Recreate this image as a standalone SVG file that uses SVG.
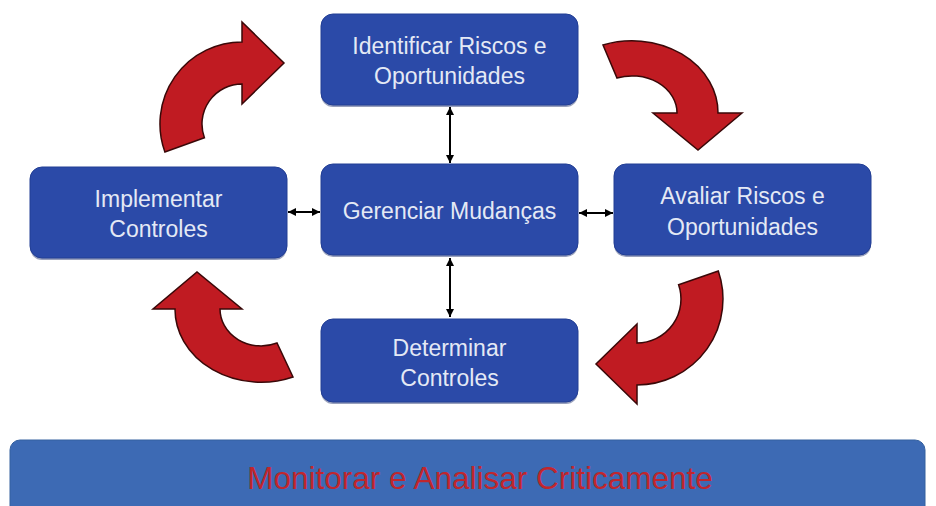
<svg xmlns="http://www.w3.org/2000/svg" width="936" height="506" viewBox="0 0 936 506">
<style>
.box{fill:#2B4AA8;stroke:#223E94;stroke-width:1}
.sh{fill:#1A2D6A;opacity:0.45}
.t{font-family:"Liberation Sans",Arial,sans-serif;font-size:23px;fill:#E4E9F5;text-anchor:middle}
.ra{fill:#C01B22;stroke:#3A0808;stroke-width:1.5;stroke-linejoin:miter}
.c{stroke:#000;stroke-width:2;fill:none;marker-start:url(#ah);marker-end:url(#ah)}
</style>
<defs>
<marker id="ah" markerUnits="userSpaceOnUse" markerWidth="9" markerHeight="9" refX="8" refY="4.5" orient="auto-start-reverse">
<path d="M0,0.5 L8,4.5 L0,8.5 z" fill="#000"/>
</marker>
</defs>
<rect width="936" height="506" fill="#fff"/>
<g id="cycle-arrows">
<path class="ra" d="M164.9,152 A82,82 0 0 1 242,42 L242,22 L284,63 L242,104 L242,84 A40,40 0 0 0 204.4,137.7 Z"/>
<path class="ra" d="M603,45 A86,72 0 0 1 718,113 L742,113 L698,150 L653,113 L677,113 A45,37 0 0 0 617,78 Z"/>
<path class="ra" d="M718.3,271 A86,86 0 0 1 637,385 L637,404 L596,364 L637,324 L637,343 A44,44 0 0 0 678.6,284.7 Z"/>
<path class="ra" d="M293,377 A86,73 0 0 1 175,309 L153,309 L197,272 L242,309 L220,309 A41,37 0 0 0 277,343 Z"/>
</g>
<g id="connectors">
<line class="c" x1="450" y1="107" x2="450" y2="163"/>
<line class="c" x1="450" y1="258" x2="450" y2="317"/>
<line class="c" x1="288" y1="212" x2="320" y2="212"/>
<line class="c" x1="579" y1="213" x2="613" y2="213"/>
</g>
<g id="identificar">
<rect class="sh" x="321" y="16" width="257" height="91" rx="12"/>
<rect class="box" x="321" y="14" width="257" height="91" rx="12"/>
<text class="t" x="449.5" y="54">Identificar Riscos e</text>
<text class="t" x="449.5" y="84">Oportunidades</text>
</g>
<g id="gerenciar">
<rect class="sh" x="321" y="166" width="257" height="91" rx="12"/>
<rect class="box" x="321" y="164" width="257" height="91" rx="12"/>
<text class="t" x="449.5" y="219">Gerenciar Mudanças</text>
</g>
<g id="avaliar">
<rect class="sh" x="614" y="166" width="257" height="91" rx="12"/>
<rect class="box" x="614" y="164" width="257" height="91" rx="12"/>
<text class="t" x="742.5" y="204">Avaliar Riscos e</text>
<text class="t" x="742.5" y="235">Oportunidades</text>
</g>
<g id="implementar">
<rect class="sh" x="30" y="169" width="257" height="91" rx="12"/>
<rect class="box" x="30" y="167" width="257" height="91" rx="12"/>
<text class="t" x="158.5" y="207">Implementar</text>
<text class="t" x="158.5" y="237">Controles</text>
</g>
<g id="determinar">
<rect class="sh" x="321" y="321" width="257" height="83" rx="12"/>
<rect class="box" x="321" y="319" width="257" height="83" rx="12"/>
<text class="t" x="449.5" y="356">Determinar</text>
<text class="t" x="449.5" y="386">Controles</text>
</g>
<g id="monitorar">
<rect x="10" y="440" width="915" height="80" rx="10" fill="#3D6AB4" stroke="#34609F" stroke-width="1"/>
<text x="480" y="489" font-family="'Liberation Sans',Arial,sans-serif" font-size="31.5" fill="#C0262D" text-anchor="middle">Monitorar e Analisar Criticamente</text>
</g>
</svg>
